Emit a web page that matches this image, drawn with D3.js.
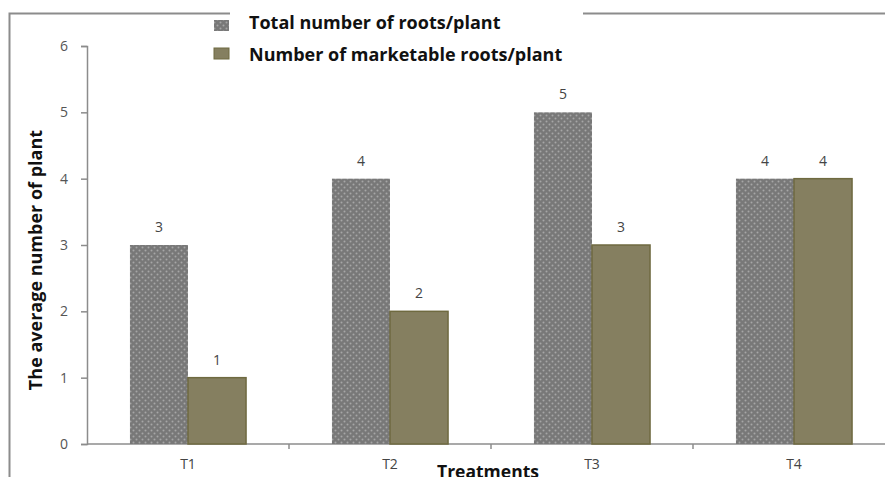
<!DOCTYPE html>
<html>
<head>
<meta charset="utf-8">
<script src="https://cdn.jsdelivr.net/npm/d3@7"></script>
<style>
  html, body { margin: 0; padding: 0; background: #fff; }
  svg { display: block; }
</style>
</head>
<body>
<svg id="chart" width="885" height="477"></svg>
<script>
// Treatments and the two root counts per plant
const categories = ["T1", "T2", "T3", "T4"];
const seriesNames = ["Total number of roots/plant", "Number of marketable roots/plant"];
const totalRoots = [3, 4, 5, 4];
const marketableRoots = [1, 2, 3, 4];
const yTicks = [0, 1, 2, 3, 4, 5, 6];

const svg = d3.select("#chart");
const W = 885, H = 477;

const margin = { left: 87, top: 46, bottom: 444 };
const titleFont = "'Open Sans', 'Noto Sans', sans-serif";
const tickFont = "'Open Sans', 'Noto Sans', sans-serif";

// pattern fill for the total-roots bars
const defs = svg.append("defs");
const pat = defs.append("pattern")
  .attr("id", "dots")
  .attr("patternUnits", "userSpaceOnUse")
  .attr("width", 6).attr("height", 6);
pat.append("rect").attr("width", 6).attr("height", 6).attr("fill", "#787878");
pat.append("circle").attr("cx", 1.5).attr("cy", 1.5).attr("r", 1).attr("fill", "#a6a6a6");
pat.append("circle").attr("cx", 4.5).attr("cy", 4.5).attr("r", 1).attr("fill", "#a6a6a6");

// scales
const x = d3.scaleBand().domain(categories).range([margin.left, margin.left + 4 * 202]).paddingInner(0).paddingOuter(0);
const xs = d3.scaleBand().domain(seriesNames).range([0, x.bandwidth()]).paddingInner(0).paddingOuter(0.74);
const y = d3.scaleLinear().domain([0, 6]).range([margin.bottom, margin.top]);

// outer frame (left and top edges)
svg.append("path")
  .attr("d", `M9.5,${H} V13.5 H${W}`)
  .attr("fill", "none").attr("stroke", "#8c8c8c").attr("stroke-width", 2);

// y axis
const yAxis = svg.append("g")
  .attr("transform", `translate(${margin.left},0)`)
  .call(d3.axisLeft(y).tickValues(yTicks).tickSize(6).tickPadding(13).tickFormat(d3.format("d")));
yAxis.select(".domain").attr("stroke", "#8c8c8c").attr("stroke-width", 1.5);
yAxis.selectAll(".tick line").attr("stroke", "#8c8c8c").attr("stroke-width", 1.5);
yAxis.selectAll(".tick text")
  .attr("font-family", tickFont)
  .attr("font-size", 14).attr("fill", "#555");

// x axis line with ticks at category boundaries
svg.append("line")
  .attr("x1", margin.left).attr("x2", W)
  .attr("y1", y(0)).attr("y2", y(0))
  .attr("stroke", "#8c8c8c").attr("stroke-width", 1.5);
svg.selectAll(".xbound")
  .data(categories.slice(1))
  .join("line")
  .attr("x1", d => x(d)).attr("x2", d => x(d))
  .attr("y1", y(0)).attr("y2", y(0) + 5)
  .attr("stroke", "#8c8c8c").attr("stroke-width", 1.5);
svg.selectAll(".xlabel")
  .data(categories)
  .join("text")
  .attr("x", d => x(d) + x.bandwidth() / 2)
  .attr("y", y(0) + 25)
  .attr("text-anchor", "middle")
  .attr("font-family", tickFont)
  .attr("font-size", 14).attr("fill", "#444")
  .text(d => d);

// bars
const rows = categories.map((c, i) => ({ cat: c, vals: [totalRoots[i], marketableRoots[i]] }));
const groups = svg.selectAll(".grp")
  .data(rows)
  .join("g")
  .attr("transform", d => `translate(${x(d.cat)},0)`);

groups.selectAll("rect")
  .data(d => d.vals.map((v, j) => ({ v, s: seriesNames[j], j })))
  .join("rect")
  .attr("x", d => xs(d.s))
  .attr("y", d => y(d.v))
  .attr("width", xs.bandwidth())
  .attr("height", d => y(0) - y(d.v))
  .attr("fill", d => d.j === 0 ? "url(#dots)" : "#857f60")
  .attr("stroke", d => d.j === 0 ? "none" : "#6f6a40")
  .attr("stroke-width", 1.5);

groups.selectAll(".val")
  .data(d => d.vals.map((v, j) => ({ v, s: seriesNames[j] })))
  .join("text")
  .attr("x", d => xs(d.s) + xs.bandwidth() / 2)
  .attr("y", d => y(d.v) - 13)
  .attr("text-anchor", "middle")
  .attr("font-family", tickFont)
  .attr("font-size", 14).attr("fill", "#444")
  .text(d => d.v);

// axis titles
svg.append("text")
  .attr("transform", "translate(42,260) rotate(-90)")
  .attr("text-anchor", "middle")
  .attr("font-family", titleFont)
  .attr("font-weight", "bold")
  .attr("font-size", 18).attr("fill", "#111")
  .text("The average number of plant");

svg.append("text")
  .attr("x", 488).attr("y", 478)
  .attr("text-anchor", "middle")
  .attr("font-family", titleFont)
  .attr("font-weight", "bold")
  .attr("font-size", 17.5).attr("fill", "#111")
  .text("Treatments");

// legend
const legend = svg.append("g");
legend.append("rect").attr("x", 230).attr("y", 4).attr("width", 353).attr("height", 64).attr("fill", "#fff");
const legendFills = ["url(#dots)", "#857f60"];
const legendBoxY = [20, 48];
const legendTextY = [29, 61];
seriesNames.forEach((name, i) => {
  legend.append("rect")
    .attr("x", 214).attr("y", legendBoxY[i]).attr("width", 15).attr("height", 11)
    .attr("fill", legendFills[i])
    .attr("stroke", i === 1 ? "#6f6a40" : "none");
  legend.append("text")
    .attr("x", 249).attr("y", legendTextY[i])
    .attr("font-family", titleFont)
    .attr("font-weight", "bold")
    .attr("font-size", 18).attr("fill", "#111")
    .text(name);
});
</script>
</body>
</html>
